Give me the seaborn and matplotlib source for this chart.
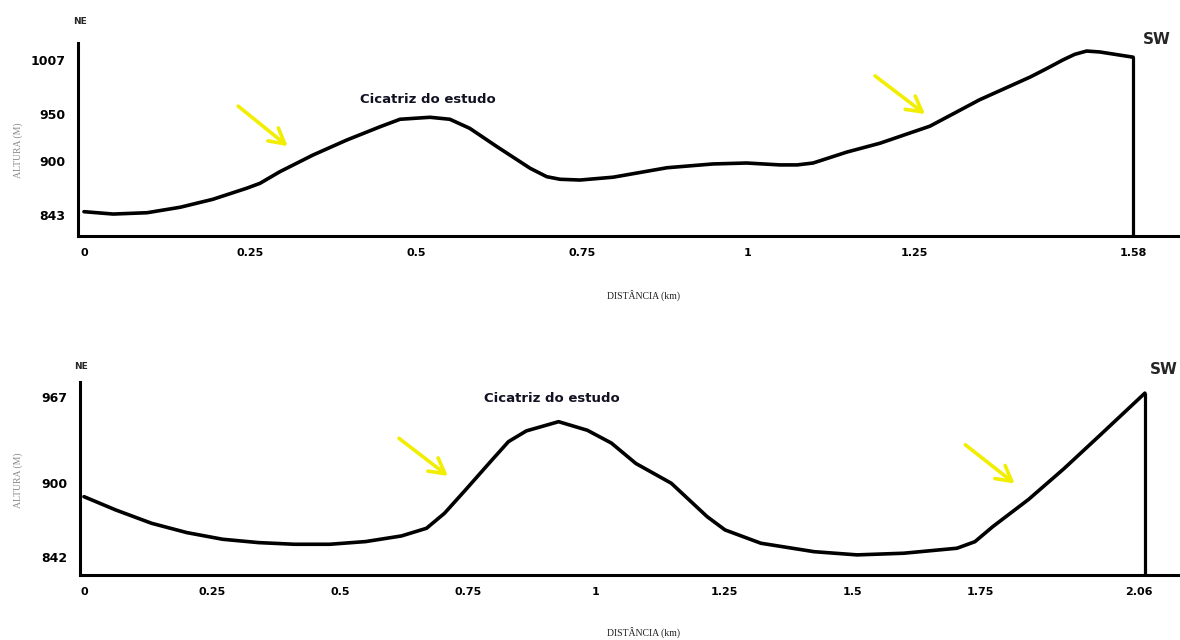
import matplotlib
matplotlib.use("Agg")
import matplotlib.pyplot as plt
import seaborn as sns
import pandas as pd

# ---- data: profile 1 (top) ----
dist_top = [0, 0.044, 0.095, 0.145, 0.194, 0.245, 0.265, 0.295, 0.345, 0.396,
            0.446, 0.476, 0.521, 0.551, 0.581, 0.622, 0.672, 0.697, 0.717,
            0.747, 0.797, 0.878, 0.947, 0.998, 1.048, 1.074, 1.098, 1.149,
            1.199, 1.274, 1.349, 1.425, 1.450, 1.474, 1.492, 1.510, 1.530, 1.580]
alt_top = [846.5, 844, 845.4, 851.2, 859.6, 871.3, 876.5, 888.8, 906.5, 922.4,
           936.4, 944.3, 946.4, 944.3, 934.7, 915.3, 892.4, 883.5, 880.8,
           880, 883, 893, 897, 898, 896, 896, 898, 909.6,
           919, 937, 965, 989, 998, 1007, 1013, 1016.5, 1015.5, 1010]
xticks_top = [0, 0.25, 0.5, 0.75, 1, 1.25, 1.58]
xlabels_top = ["0", "0.25", "0.5", "0.75", "1", "1.25", "1.58"]
yticks_top = [843, 900, 950, 1007]

# ---- data: profile 2 (bottom) ----
dist_bot = [0, 0.062, 0.132, 0.201, 0.271, 0.341, 0.411, 0.480, 0.550, 0.620,
            0.669, 0.704, 0.745, 0.794, 0.829, 0.864, 0.927, 0.983, 1.030,
            1.078, 1.147, 1.217, 1.252, 1.322, 1.426, 1.510, 1.601, 1.705,
            1.740, 1.775, 1.845, 1.914, 1.984, 2.072]
alt_bot = [889.1, 878.7, 868.3, 861.0, 855.8, 853.2, 851.9, 851.9, 854.0, 858.4,
           864.4, 876.1, 894.3, 916.5, 932.1, 940.5, 947.7, 941, 931,
           915, 899.6, 873.5, 863.1, 852.7, 846.1, 843.6, 844.9, 848.8,
           853.9, 865.7, 887, 911, 937, 970]
xticks_bot = [0, 0.25, 0.5, 0.75, 1, 1.25, 1.5, 1.75, 2.06]
xlabels_bot = ["0", "0.25", "0.5", "0.75", "1", "1.25", "1.5", "1.75", "2.06"]
yticks_bot = [842, 900, 967]

# arrows (tail, head) in data coords
arrows_top = [((0.229, 960), (0.310, 914)), ((1.188, 992), (1.270, 948))]
arrows_bot = [((0.611, 936), (0.715, 904)), ((1.717, 931), (1.822, 898))]

sns.set_theme(style="white")
plt.rcParams['font.family'] = ['DejaVu Sans']

fig = plt.figure(figsize=(11.8, 6.4), dpi=100)
fig.patch.set_facecolor("white")

ax1 = fig.add_axes([0.0661, 0.6313, 1.0 - 0.0661, 0.3015])
ax2 = fig.add_axes([0.0678, 0.1016, 1.0 - 0.0678, 0.3015])

YELLOW = "#f2ee00"

def draw(ax, xs, ys, xticks, xlabels, yticks, xlim, ylim, arrows, text_xy):
    df = pd.DataFrame({"d": xs, "a": ys})
    sns.lineplot(data=df, x="d", y="a", ax=ax, color="black", linewidth=2.6,
                 sort=False, estimator=None)
    for l in ax.get_lines():
        l.set_solid_joinstyle("round")
        l.set_solid_capstyle("round")
    ax.vlines(xs[-1], ylim[0], ys[-1], color="black", linewidth=2.3)
    ax.set_xlim(*xlim)
    ax.set_ylim(*ylim)
    ax.set_xticks(xticks)
    ax.set_xticklabels(xlabels, fontsize=8, fontweight="bold", color="black")
    ax.set_yticks(yticks)
    ax.set_yticklabels([str(v) for v in yticks], fontsize=9, fontweight="bold",
                       color="black")
    ax.tick_params(axis="both", length=0)
    ax.tick_params(axis="x", pad=9)
    ax.tick_params(axis="y", pad=9)
    ax.set_xlabel("")
    ax.set_ylabel("")
    for s in ["top", "right"]:
        ax.spines[s].set_visible(False)
    for s in ["left", "bottom"]:
        ax.spines[s].set_color("black")
        ax.spines[s].set_linewidth(2.2)
    ax.set_facecolor("white")
    for tail, head in arrows:
        ax.annotate("", xy=head, xytext=tail,
                    arrowprops=dict(arrowstyle="->,head_length=0.9,head_width=0.5",
                                    color=YELLOW, lw=2.6))
    ax.text(text_xy[0], text_xy[1], "Cicatriz do estudo", ha="center", va="center",
            fontsize=9.5, fontweight="heavy", color="#111122")

draw(ax1, dist_top, alt_top, xticks_top, xlabels_top, yticks_top,
     (-0.009, 1.6506), (820.8, 1025), arrows_top, (0.518, 965))
draw(ax2, dist_bot, alt_bot, xticks_bot, xlabels_bot, yticks_bot,
     (-0.0078, 2.1406), (827.9, 978.7), arrows_bot, (0.914, 966))

# direction labels
fig.text(0.068, 0.966, "NE", fontsize=6.5, fontweight="bold", ha="center", va="center")
fig.text(0.069, 0.427, "NE", fontsize=6.5, fontweight="bold", ha="center", va="center")
fig.text(0.980, 0.9375, "SW", fontsize=11, fontweight="bold", ha="center", va="center")
fig.text(0.986, 0.422, "SW", fontsize=11, fontweight="bold", ha="center", va="center")

# axis titles
serif = ["Liberation Serif", "DejaVu Serif"]
fig.text(0.015, 0.766, "ALTURA (M)", rotation=90, fontsize=7, color="#8a8a8a",
         ha="center", va="center", family=serif)
fig.text(0.015, 0.25, "ALTURA (M)", rotation=90, fontsize=7, color="#8a8a8a",
         ha="center", va="center", family=serif)
fig.text(0.545, 0.539, "DISTÂNCIA (km)", fontsize=7, color="#222222",
         ha="center", va="center", family=serif)
fig.text(0.545, 0.0125, "DISTÂNCIA (km)", fontsize=7, color="#222222",
         ha="center", va="center", family=serif)

fig.savefig("out.png", dpi=100, facecolor="white")
